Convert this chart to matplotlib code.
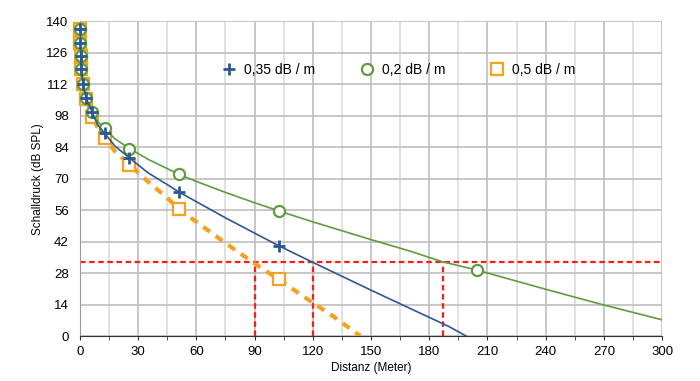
import matplotlib

matplotlib.use("Agg")
import matplotlib.pyplot as plt
from matplotlib.ticker import MultipleLocator

plt.rcParams["font.family"] = ["Liberation Sans", "DejaVu Sans"]

BLUE, GREEN, ORANGE, RED = "#2d5896", "#5e9c3e", "#f4a21f", "#ff1a1a"

# marker points (distance doubling)
dist = [0.1, 0.2, 0.4, 0.8, 1.6, 3.2, 6.4, 12.8, 25.6, 51.2, 102.4]
spl_035 = [136.4, 130.5, 124.5, 118.6, 112.2, 106.0, 99.6, 90.2, 79.2, 64.0, 40.2]
spl_02 = [136.4, 130.5, 124.5, 118.6, 112.2, 106.0, 99.6, 92.4, 83.4, 71.9, 55.7]
spl_05 = [136.4, 130.5, 124.5, 118.6, 112.2, 105.5, 97.3, 88.0, 76.2, 56.4, 25.2]
dist_02_extra = [204.8]
spl_02_extra = [29.5]

# curve samples
curve_02_x = [0.1, 0.2, 0.4, 0.8, 1.6, 3.2, 6.4, 9, 12.8, 18, 25.6, 35, 45, 51.2, 60, 75,
              90, 102.4, 120, 150, 170, 187, 204.8, 240, 270, 300]
curve_02_y = [136.4, 130.5, 124.5, 118.6, 112.2, 106.0, 99.6, 95.6, 92.4, 87.8, 83.4, 78.7,
              74.5, 71.9, 68.8, 63.9, 59.3, 55.7, 50.8, 42.9, 37.8, 33.0, 29.3, 20.8,
              13.8, 7.2]
curve_035_x = [0.1, 0.2, 0.4, 0.8, 1.6, 3.2, 6.4, 9, 12.8, 18, 25.6, 35, 45, 51.2, 60, 75,
               90, 102.4, 120, 150, 180, 190, 199]
curve_035_y = [136.4, 130.5, 124.5, 118.6, 112.2, 106.0, 99.6, 94.2, 90.2, 84.6, 79.2, 72.7,
               67.4, 64.0, 59.8, 52.6, 45.8, 40.2, 32.8, 20.4, 8.3, 4.3, 0.0]
curve_05_x = [0.1, 0.2, 0.4, 0.8, 1.6, 3.2, 6.4, 9, 12.8, 18, 25.6, 35, 45, 51.2, 60, 75,
              90, 102.4, 120, 130, 144.5]
curve_05_y = [136.4, 130.5, 124.5, 118.6, 112.2, 105.5, 97.3, 93.1, 88.0, 82.3, 76.2, 68.8,
              61.5, 56.4, 50.8, 41.4, 32.3, 25.2, 14.8, 9.1, 0.0]

# reading lines at 33 dB
level = 33
cross_x = [90, 120, 187]

labels = ["0,35 dB / m", "0,2 dB / m", "0,5 dB / m"]

fig = plt.figure(figsize=(7.0, 3.81), dpi=100)
ax = fig.add_axes([0.114, 0.118, 0.832, 0.826])

# orange (bottom), green, blue (top)
ax.plot(curve_05_x, curve_05_y, color=ORANGE, lw=3.0, dashes=(2.0, 1.7), zorder=3)
ax.plot(dist, spl_05, ls="none", marker="s", ms=8, mfc="white", mec=ORANGE, mew=1.6,
        zorder=4, clip_on=False, label=labels[2])

ax.plot(curve_02_x, curve_02_y, color=GREEN, lw=1.2, zorder=5)
ax.plot(dist + dist_02_extra, spl_02 + spl_02_extra, ls="none", marker="o", ms=8,
        mfc="white", mec=GREEN, mew=1.6, zorder=6, clip_on=False, label=labels[1])

ax.plot(curve_035_x, curve_035_y, color=BLUE, lw=1.2, zorder=7)
ax.plot(dist, spl_035, ls="none", marker="+", ms=9, mec=BLUE, mew=2.0, zorder=8,
        clip_on=False, label=labels[0])

ax.axhline(level, color=RED, lw=1.6, dashes=(2.5, 1.6), zorder=2)
for cx in cross_x:
    ax.plot([cx, cx], [0, level], color=RED, lw=1.6, dashes=(2.5, 1.6), zorder=2)

ax.set_xlim(0, 300)
ax.set_ylim(0, 140)
ax.xaxis.set_major_locator(MultipleLocator(30))
ax.xaxis.set_minor_locator(MultipleLocator(15))
ax.yaxis.set_major_locator(MultipleLocator(14))
ax.grid(True, which="major", color="#bdbdbd", lw=1.2, zorder=0)
ax.grid(True, which="minor", axis="x", color="#dcdcdc", lw=1.2, zorder=0)
ax.set_axisbelow(True)
for s in ["top", "right"]:
    ax.spines[s].set_visible(False)
ax.spines["left"].set_color("#9a9a9a")
ax.spines["bottom"].set_color("#333333")
ax.tick_params(axis="x", which="both", length=3, color="#333333", labelsize=9.5, pad=4)
ax.tick_params(axis="y", length=0, labelsize=9.5, pad=8)

ax.set_xlabel("Distanz (Meter)", fontsize=8.5, labelpad=3)
ax.set_ylabel("Schalldruck (dB SPL)", fontsize=8.5, labelpad=2)

h, l = ax.get_legend_handles_labels()
order = [2, 1, 0]
ax.legend([h[i] for i in order], [l[i] for i in order], loc="center",
          bbox_to_anchor=(0.548, 0.846), ncol=3, frameon=False, fontsize=10,
          handlelength=1.0, columnspacing=3.2, handletextpad=0.6)

fig.savefig("out.png", dpi=100, facecolor="white")
